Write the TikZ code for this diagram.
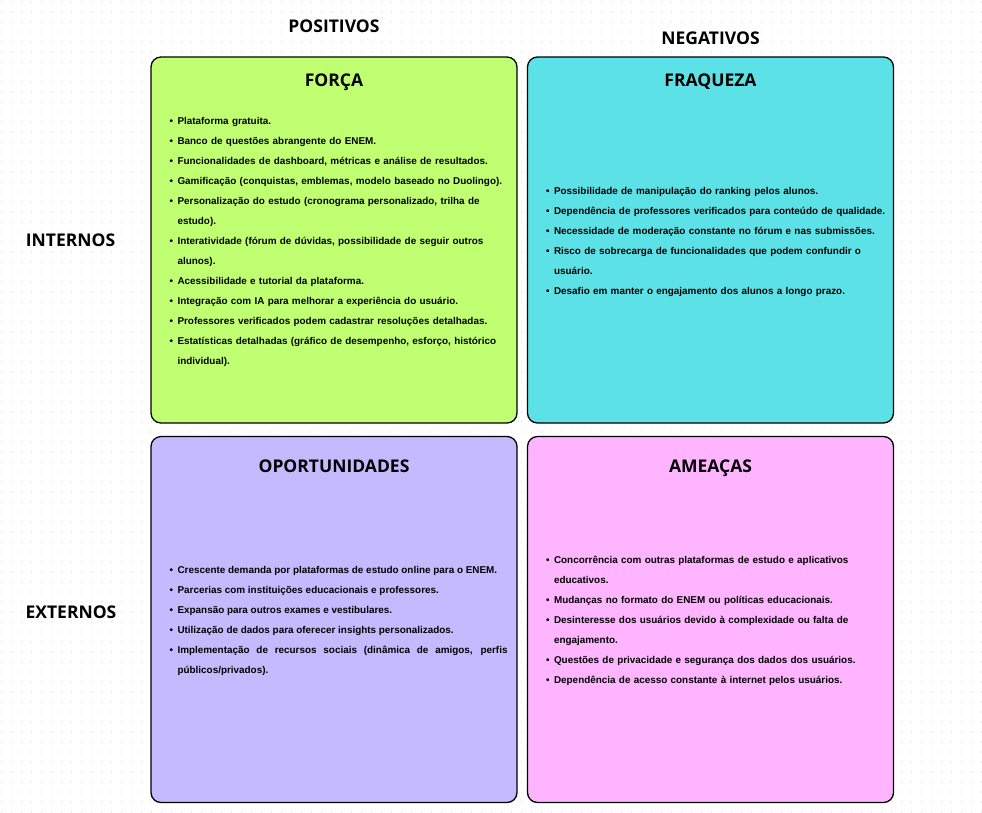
\documentclass[tikz,border=0pt]{standalone}
\usepackage{fontspec}
\setmainfont{Liberation Sans}
\newfontfamily\headfont{Open Sans}
\usetikzlibrary{positioning}
\definecolor{forcagreen}{HTML}{C1FF72}
\definecolor{fraquezacyan}{HTML}{5CE1E6}
\definecolor{oportlilac}{HTML}{C5BAFF}
\definecolor{ameacapink}{HTML}{FFB4FF}
\definecolor{griddot}{HTML}{E9E9E9}
\tikzset{
	quadbox/.style={draw, line width=1.3pt, rounded corners=10pt, minimum width=366pt, minimum height=366pt, inner sep=0pt},
	quadtitle/.style={font=\headfont\bfseries\fontsize{17.5}{20}\selectfont, inner sep=0pt, anchor=base},
	sidelabel/.style={font=\headfont\bfseries\fontsize{17.5}{20}\selectfont, inner sep=0pt},
	itemlist/.style={font=\bfseries\fontsize{9.9}{20}\selectfont, text width=340pt, align=left, inner sep=0pt, anchor=west}
}
\newcommand{\swotitem}[1]{\hangindent=8pt\hangafter=1\noindent\makebox[8pt][l]{•}#1\par}

\begin{document}
\begin{tikzpicture}[x=1pt, y=-1pt]
	\useasboundingbox (0,0) rectangle (982,812);
	% faint dotted background
	\foreach \gy in {2,12,...,812}
		\draw[griddot, line width=1.2pt, dash pattern=on 1.2pt off 8.8pt] (1,\gy) -- (982,\gy);
	
	% quadrants
	\node[quadbox, fill=forcagreen] (forca) at (334,240) {};
	\node[quadbox, fill=fraquezacyan] (fraqueza) at (710.5,240) {};
	\node[quadbox, fill=oportlilac] (oport) at (334,619.5) {};
	\node[quadbox, fill=ameacapink] (ameacas) at (710.5,619.5) {};
	
	% titles
	\node[quadtitle] (forcatitle) at ([yshift=-30pt]forca.north) {FORÇA};
	\node[quadtitle] (fraquezatitle) at ([yshift=-30pt]fraqueza.north) {FRAQUEZA};
	\node[quadtitle] (oporttitle) at ([yshift=-37pt]oport.north) {OPORTUNIDADES};
	\node[quadtitle] (ameacastitle) at ([yshift=-37pt]ameacas.north) {AMEAÇAS};
	
	% axis labels
	\node[sidelabel, above=23pt of forca] (positivos) {POSITIVOS};
	\node[sidelabel, above=11pt of fraqueza] (negativos) {NEGATIVOS};
	\node[sidelabel, left=35pt of forca] (internos) {INTERNOS};
	\node[sidelabel] (externos) at (71,612) {EXTERNOS};
	
	% lists
	\node[itemlist] (forcalist) at ([xshift=19pt,yshift=-1.5pt]forca.west) {%
		\swotitem{Plataforma gratuita.}
		\swotitem{Banco de questões abrangente do ENEM.}
		\swotitem{Funcionalidades de dashboard, métricas e análise de resultados.}
		\swotitem{Gamificação (conquistas, emblemas, modelo baseado no Duolingo).}
		\swotitem{Personalização do estudo (cronograma personalizado, trilha de\newline estudo).}
		\swotitem{Interatividade (fórum de dúvidas, possibilidade de seguir outros\newline alunos).}
		\swotitem{Acessibilidade e tutorial da plataforma.}
		\swotitem{Integração com IA para melhorar a experiência do usuário.}
		\swotitem{Professores verificados podem cadastrar resoluções detalhadas.}
		\swotitem{Estatísticas detalhadas (gráfico de desempenho, esforço, histórico\newline individual).}};
	
	\node[itemlist] (fraquezalist) at ([xshift=19pt,yshift=-1.5pt]fraqueza.west) {%
		\swotitem{Possibilidade de manipulação do ranking pelos alunos.}
		\swotitem{Dependência de professores verificados para conteúdo de qualidade.}
		\swotitem{Necessidade de moderação constante no fórum e nas submissões.}
		\swotitem{Risco de sobrecarga de funcionalidades que podem confundir o\newline usuário.}
		\swotitem{Desafio em manter o engajamento dos alunos a longo prazo.}};
	
	\node[itemlist, text width=338pt, align=justify] (oportlist) at ([xshift=19pt,yshift=-1.5pt]oport.west) {%
		\swotitem{Crescente demanda por plataformas de estudo online para o ENEM.}
		\swotitem{Parcerias com instituições educacionais e professores.}
		\swotitem{Expansão para outros exames e vestibulares.}
		\swotitem{Utilização de dados para oferecer insights personalizados.}
		\swotitem{Implementação de recursos sociais (dinâmica de amigos, perfis\linebreak públicos/privados).}};
	
	\node[itemlist] (ameacaslist) at ([xshift=19pt,yshift=-1.5pt]ameacas.west) {%
		\swotitem{Concorrência com outras plataformas de estudo e aplicativos\newline educativos.}
		\swotitem{Mudanças no formato do ENEM ou políticas educacionais.}
		\swotitem{Desinteresse dos usuários devido à complexidade ou falta de\newline engajamento.}
		\swotitem{Questões de privacidade e segurança dos dados dos usuários.}
		\swotitem{Dependência de acesso constante à internet pelos usuários.}};
\end{tikzpicture}
\end{document}
